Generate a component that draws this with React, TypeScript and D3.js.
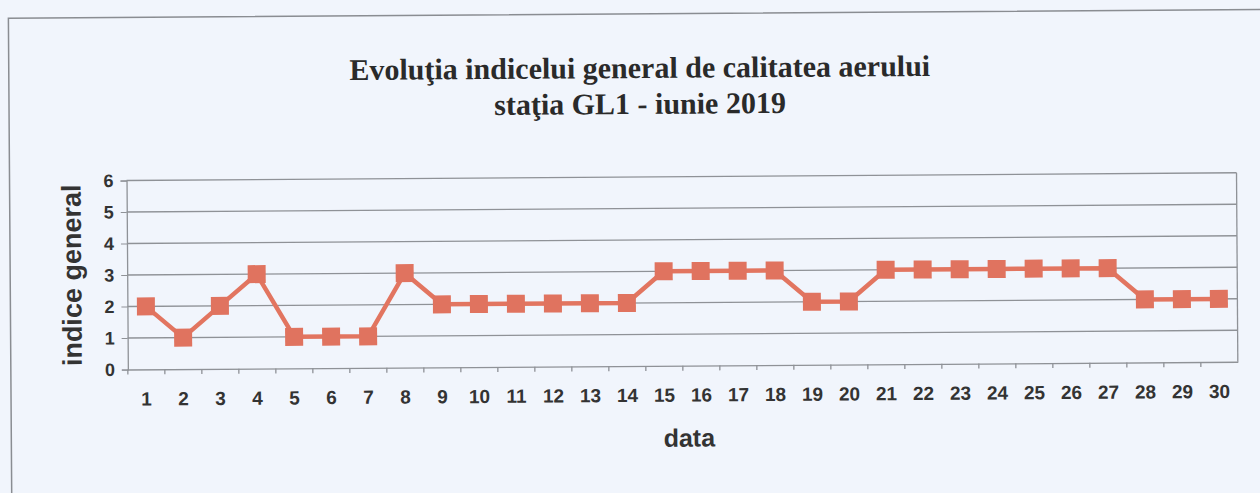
import React, { useEffect, useRef } from 'react';
import * as d3 from 'd3';

const days = d3.range(1, 31).map(String);
const indexValues = [2, 1, 2, 3, 1, 1, 1, 3, 2, 2, 2, 2, 2, 2, 3, 3, 3, 3, 2, 2, 3, 3, 3, 3, 3, 3, 3, 2, 2, 2];
const yTicks = [0, 1, 2, 3, 4, 5, 6];
const titleLines = ['Evoluţia indicelui general de calitatea aerului', 'staţia GL1 - iunie 2019'];

export default function App() {
  const svgRef = useRef<SVGSVGElement>(null);

  useEffect(() => {
    const W = 1260, H = 493;
    const margin = { top: 177, right: 23, bottom: 127, left: 127 };
    const width = W - margin.left - margin.right;
    const height = H - margin.top - margin.bottom;

    const svg = d3.select(svgRef.current);
    svg.selectAll('*').remove();

    svg.append('rect').attr('width', W).attr('height', H).attr('fill', '#f1f5fc');

    // whole scan is tilted a little
    const root = svg.append('g').attr('transform', `rotate(-0.4 ${W / 2} ${H / 2})`);

    root.append('rect')
      .attr('x', 10).attr('y', 14).attr('width', 1400).attr('height', 600)
      .attr('fill', 'none').attr('stroke', '#8a8d92').attr('stroke-width', 1.5);

    root.selectAll('text.title')
      .data(titleLines).enter().append('text')
      .attr('class', 'title')
      .attr('x', 641).attr('y', (_, i) => 78 + i * 36)
      .attr('text-anchor', 'middle')
      .style('font-family', '"Liberation Serif", "DejaVu Serif", serif')
      .style('font-weight', 'bold').style('font-size', '30px')
      .style('fill', '#2a2a2a')
      .text(d => d);

    const g = root.append('g').attr('transform', `translate(${margin.left},${margin.top})`);

    const x = d3.scaleBand().domain(days).range([0, width]);
    const y = d3.scaleLinear().domain([0, 6]).range([height, 0]);

    // gridlines
    g.selectAll('line.grid')
      .data(yTicks.slice(1)).enter().append('line')
      .attr('x1', 0).attr('x2', width)
      .attr('y1', d => y(d)).attr('y2', d => y(d))
      .attr('stroke', '#8f9297').attr('stroke-width', 1.3);

    g.append('line').attr('x1', width).attr('x2', width).attr('y1', 0).attr('y2', height)
      .attr('stroke', '#8f9297').attr('stroke-width', 1.3);

    const font = 'Arial, "Liberation Sans", sans-serif';

    const yAxis = g.append('g').call(d3.axisLeft(y).tickValues(yTicks).tickSize(6).tickFormat(d3.format('d')));
    yAxis.select('.domain').attr('stroke', '#8f9297').attr('stroke-width', 1.3);
    yAxis.selectAll('line').attr('stroke', '#8f9297');
    yAxis.selectAll('text').attr('x', -13)
      .style('font-family', font).style('font-weight', 'bold').style('font-size', '18px').style('fill', '#333');

    const xAxis = g.append('g').attr('transform', `translate(0,${height})`)
      .call(d3.axisBottom(x).tickSize(0));
    xAxis.select('.domain').attr('stroke', '#8f9297').attr('stroke-width', 1.3);
    xAxis.selectAll('text').attr('y', 0).attr('dy', 0).attr('transform', 'translate(0,36)')
      .style('font-family', font).style('font-weight', 'bold').style('font-size', '19px').style('fill', '#333');

    // tick marks between categories
    g.selectAll('line.xtick')
      .data(days).enter().append('line')
      .attr('x1', d => x(d)!).attr('x2', d => x(d)!)
      .attr('y1', height).attr('y2', height + 5)
      .attr('stroke', '#8f9297').attr('stroke-width', 1.3);

    const cx = (i: number) => x(days[i])! + x.bandwidth() / 2;

    const line = d3.line<number>().x((_, i) => cx(i)).y(d => y(d));
    g.append('path').datum(indexValues)
      .attr('d', line)
      .attr('fill', 'none').attr('stroke', '#e27560').attr('stroke-width', 4.5)
      .attr('stroke-linejoin', 'round');

    const s = 18;
    g.selectAll('rect.marker')
      .data(indexValues).enter().append('rect')
      .attr('x', (_, i) => cx(i) - s / 2).attr('y', d => y(d) - s / 2)
      .attr('width', s).attr('height', s)
      .attr('fill', '#e0735f');

    root.append('text')
      .attr('transform', `translate(81,${margin.top + height / 2}) rotate(-90)`)
      .attr('text-anchor', 'middle')
      .style('font-family', font).style('font-weight', 'bold').style('font-size', '27px').style('fill', '#333')
      .text('indice general');

    root.append('text')
      .attr('x', 688).attr('y', 447)
      .attr('text-anchor', 'middle')
      .style('font-family', font).style('font-weight', 'bold').style('font-size', '25px').style('fill', '#333')
      .text('data');
  }, []);

  return (
    <svg ref={svgRef} width={1260} height={493}
      style={{ position: 'absolute', left: 0, top: 0, display: 'block' }} />
  );
}
